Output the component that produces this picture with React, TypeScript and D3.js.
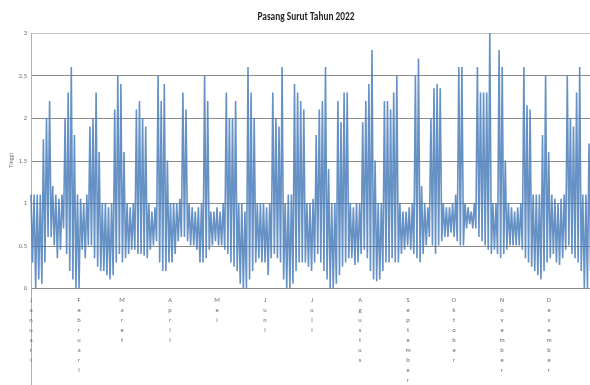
import React from 'react';
import * as d3 from 'd3';

// Tide heights, one high and one low per 2-day step (Jan 1 .. Dec 31)
const highTide = [
  1.1, 1.1, 1.1, 1.1, 1.75, 2.0, 2.2, 1.2, 1.1, 1.05, 1.1,
  2.0, 2.3, 2.6, 1.8, 1.1, 1.05, 1.0, 1.1, 1.9, 2.0,
  2.3, 1.6, 1.0, 1.0, 0.95, 1.0, 2.1, 2.5, 2.4, 1.6,
  1.0, 0.95, 1.0, 2.1, 2.2, 2.0, 1.9, 1.0, 0.9, 0.95,
  2.5, 2.2, 2.4, 1.5, 1.0, 1.0, 1.0, 1.05, 2.3, 2.1,
  1.0, 0.95, 0.9, 0.95, 1.0, 2.5, 2.2, 0.9, 0.9, 0.95,
  0.9, 1.0, 2.3, 2.0, 2.0, 2.2, 1.0, 1.0, 0.9, 2.6,
  2.3, 2.0, 1.0, 1.0, 1.0, 0.95, 1.0, 2.3, 2.0, 1.9,
  2.6, 1.0, 1.1, 1.1, 2.4, 2.3, 2.2, 2.1, 1.0, 1.0,
  1.05, 1.8, 2.1, 2.2, 2.6, 1.4, 1.0, 1.0, 2.2, 1.95,
  2.3, 2.3, 1.0, 0.95, 1.0, 1.0, 1.95, 2.2, 2.4, 2.8,
  1.5, 1.0, 1.0, 2.2, 2.2, 2.1, 2.3, 2.5, 1.0, 0.9,
  0.9, 0.95, 1.0, 2.5, 2.7, 1.2, 1.0, 0.95, 2.0, 2.35,
  2.4, 2.35, 1.0, 0.95, 0.95, 1.0, 1.1, 2.6, 2.6, 1.0,
  0.95, 0.9, 1.0, 2.6, 2.3, 2.3, 2.3, 3.0, 1.0, 1.0,
  2.8, 2.6, 1.5, 1.0, 0.95, 0.9, 0.95, 1.0, 2.6, 2.15,
  2.1, 1.1, 1.1, 1.1, 1.8, 2.5, 1.6, 1.1, 1.05, 1.0,
  1.05, 1.1, 2.5, 2.0, 1.9, 2.3, 2.6, 1.1, 1.1, 1.7,
  1.1, 1.0,
];

const lowTide = [
  0.3, 0.0, 0.1, 0.05, 0.3, 0.6, 0.6, 0.5, 0.35, 0.45, 0.7,
  0.4, 0.2, 0.1, 0.0, 0.0, 0.45, 0.35, 0.5, 0.5, 0.35,
  0.25, 0.2, 0.2, 0.15, 0.1, 0.15, 0.3, 0.4, 0.3, 0.35,
  0.4, 0.45, 0.45, 0.4, 0.4, 0.38, 0.35, 0.45, 0.5, 0.55,
  0.3, 0.2, 0.2, 0.3, 0.3, 0.4, 0.55, 0.6, 0.6, 0.55,
  0.5, 0.5, 0.45, 0.3, 0.3, 0.35, 0.45, 0.5, 0.55, 0.5,
  0.5, 0.45, 0.4, 0.3, 0.25, 0.2, 0.05, 0.0, 0.0, 0.1,
  0.2, 0.3, 0.35, 0.3, 0.3, 0.15, 0.35, 0.4, 0.35, 0.3,
  0.1, 0.0, 0.0, 0.05, 0.2, 0.3, 0.3, 0.3, 0.25, 0.2,
  0.3, 0.4, 0.3, 0.2, 0.1, 0.0, 0.0, 0.05, 0.15, 0.25,
  0.3, 0.35, 0.35, 0.27, 0.3, 0.4, 0.45, 0.35, 0.2, 0.1,
  0.08, 0.1, 0.2, 0.3, 0.3, 0.35, 0.3, 0.3, 0.4, 0.45,
  0.5, 0.45, 0.4, 0.35, 0.3, 0.4, 0.5, 0.6, 0.5, 0.4,
  0.5, 0.55, 0.6, 0.6, 0.65, 0.6, 0.55, 0.5, 0.5, 0.7,
  0.75, 0.7, 0.7, 0.6, 0.55, 0.5, 0.45, 0.4, 0.45, 0.4,
  0.35, 0.4, 0.45, 0.5, 0.5, 0.5, 0.5, 0.45, 0.35, 0.3,
  0.25, 0.2, 0.15, 0.1, 0.2, 0.3, 0.35, 0.4, 0.3, 0.27,
  0.35, 0.45, 0.5, 0.4, 0.35, 0.3, 0.2, 0.0, 0.0, 0.2,
  0.3, 0.4,
];

const months = ['Januari', 'Februari', 'Maret', 'April', 'Mei', 'Juni', 'Juli', 'Agustus', 'September', 'Oktober', 'November', 'Desember'];
const monthStartDay = [0, 31, 59, 90, 120, 151, 181, 212, 243, 273, 304, 334];
const yTicks = [0, 0.5, 1, 1.5, 2, 2.5, 3];

const title = 'Pasang Surut Tahun 2022';
const yTitle = 'Tinggi';

interface TidePoint {
  day: number;
  h: number;
}

const width = 590;
const height = 385;

const App: React.FC = () => {
  const x = d3.scaleLinear().domain([0, 365]).range([31, 596.75]);
  const y = d3.scaleLinear().domain([0, 3]).range([288, 33]);

  // high -> low for each step
  const points: TidePoint[] = [];
  highTide.forEach((hv, i) => {
    points.push({ day: i * 2, h: hv });
    points.push({ day: i * 2 + 1, h: lowTide[i] });
  });

  const line = d3.line<TidePoint>()
    .x(d => x(d.day))
    .y(d => y(d.h));

  const axisColor = '#6b6b6b';
  const font = "Calibri, Carlito, 'Liberation Sans', Arial, sans-serif";

  return (
    <svg
      width={width}
      height={height}
      style={{ position: 'absolute', left: 0, top: 0, background: '#fff' }}
      fontFamily={font}
    >
      <rect width={width} height={height} fill="#fff" />

      {/* gridlines */}
      {yTicks.map(t => (
        <line
          key={t}
          x1={31}
          x2={width}
          y1={Math.round(y(t)) + 0.5}
          y2={Math.round(y(t)) + 0.5}
          stroke={t === 3 ? '#c8c8c8' : '#8c8c8c'}
          strokeWidth={1}
        />
      ))}

      {/* left axis line */}
      <line x1={31.5} x2={31.5} y1={y(3)} y2={height} stroke="#b0b0b0" strokeWidth={1} />

      {/* data */}
      <path d={line(points) ?? ''} fill="none" stroke="#4a7ebb" strokeWidth={1.6} strokeOpacity={0.85} strokeLinejoin="bevel" />

      <g opacity={0.99}>
        {/* y tick labels */}
        {yTicks.map(t => (
          <text
            key={t}
            x={27}
            y={y(t)}
            dy="0.35em"
            textAnchor="end"
            fontSize={6.5}
            fill={axisColor}
          >
            {String(t)}
          </text>
        ))}

        <text
          transform={`translate(13,${(y(0) + y(3)) / 2}) rotate(-90)`}
          textAnchor="middle"
          fontSize={6}
          fill={axisColor}
        >
          {yTitle}
        </text>

        {/* month labels, letters stacked */}
        {months.map((m, mi) => (
          <g key={m} transform={`translate(${Math.round(x(monthStartDay[mi]))},0)`}>
            {m.split('').map((ch, ci) => (
              <text
                key={ci}
                x={0}
                y={301.5 + ci * 10.1}
                textAnchor="middle"
                fontSize={6.5}
                fill={axisColor}
              >
                {ch}
              </text>
            ))}
          </g>
        ))}

        <text
          x={306}
          y={20}
          textAnchor="middle"
          fontSize={11}
          fontWeight="bold"
          fill="#222"
          textLength={97}
          lengthAdjust="spacingAndGlyphs"
        >
          {title}
        </text>
      </g>
    </svg>
  );
};

export default App;
